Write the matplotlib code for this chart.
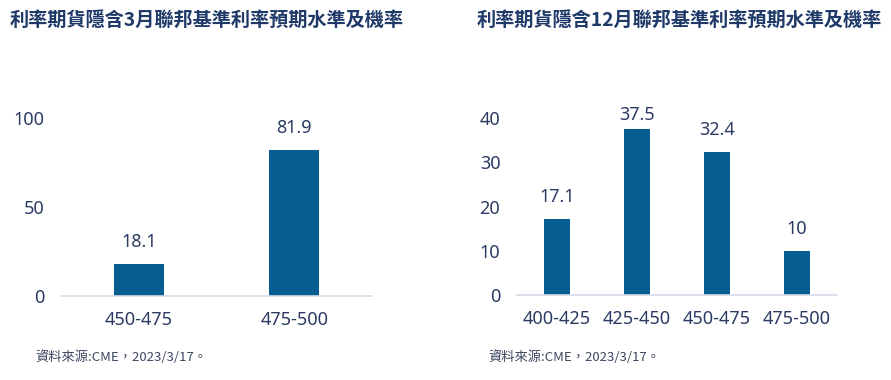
import numpy as np
import matplotlib
matplotlib.use("Agg")
import matplotlib.pyplot as plt

plt.rcParams['font.family'] = ['Noto Sans', 'Noto Sans CJK TC', 'DejaVu Sans']

# data
title_mar = "利率期貨隱含3月聯邦基準利率預期水準及機率"
cats_mar = ["450-475", "475-500"]
vals_mar = [18.1, 81.9]
ticks_mar = [0, 50, 100]

title_dec = "利率期貨隱含12月聯邦基準利率預期水準及機率"
cats_dec = ["400-425", "425-450", "450-475", "475-500"]
vals_dec = [17.1, 37.5, 32.4, 10]
ticks_dec = [0, 10, 20, 30, 40]

source = "資料來源:CME，2023/3/17。"

bar_color = "#065d91"
text_color = "#2b3a63"
axis_color = "#d3dbe8"
cjk = ['Noto Sans CJK TC', 'DejaVu Sans']

W, H = 891, 380
fig = plt.figure(figsize=(W / 100, H / 100), dpi=100)


def draw(rect, cats, vals, ticks, width):
	ax = fig.add_axes(rect)
	h_px = rect[3] * H
	x = np.arange(len(cats))
	ax.bar(x, vals, width=width, color=bar_color, zorder=2)
	for xi, v in zip(x, vals):
		# labels sit ~22px above the bar, but stay within the plot area like Excel
		off_px = min(22, h_px + 3 - v / ticks[-1] * h_px)
		ax.annotate(f"{v:g}", (xi, v), xytext=(0, off_px * 0.72), textcoords="offset points",
					ha="center", va="center", fontsize=13, color=text_color,
					annotation_clip=False)
	ax.set_xlim(-0.5, len(cats) - 0.5)
	ax.set_ylim(0, ticks[-1])
	ax.set_xticks(x)
	ax.set_xticklabels(cats)
	ax.set_yticks(ticks)
	for s in ["top", "right", "left"]:
		ax.spines[s].set_visible(False)
	ax.spines["bottom"].set_color(axis_color)
	ax.spines["bottom"].set_linewidth(1.2)
	ax.tick_params(axis="both", length=0, labelsize=13, labelcolor=text_color)
	ax.tick_params(axis="y", pad=12)
	ax.tick_params(axis="x", pad=11)
	return ax


draw([61 / W, 84 / H, 311 / W, 178 / H], cats_mar, vals_mar, ticks_mar, 0.32)
draw([517 / W, 85 / H, 320 / W, 177 / H], cats_dec, vals_dec, ticks_dec, 0.33)

fig.text(10 / W, 1 - 20 / H, title_mar, fontsize=13.8, fontweight="bold",
		 color="#1f3a68", family=cjk, va="center", ha="left")
fig.text(477 / W, 1 - 20 / H, title_dec, fontsize=13.8, fontweight="bold",
		 color="#1f3a68", family=cjk, va="center", ha="left")
fig.text(35 / W, 1 - 357 / H, source, fontsize=9.5, color="#3c4660",
		 family=cjk, va="center", ha="left")
fig.text(488 / W, 1 - 357 / H, source, fontsize=9.5, color="#3c4660",
		 family=cjk, va="center", ha="left")

fig.savefig("out.png", dpi=100, facecolor="white")
